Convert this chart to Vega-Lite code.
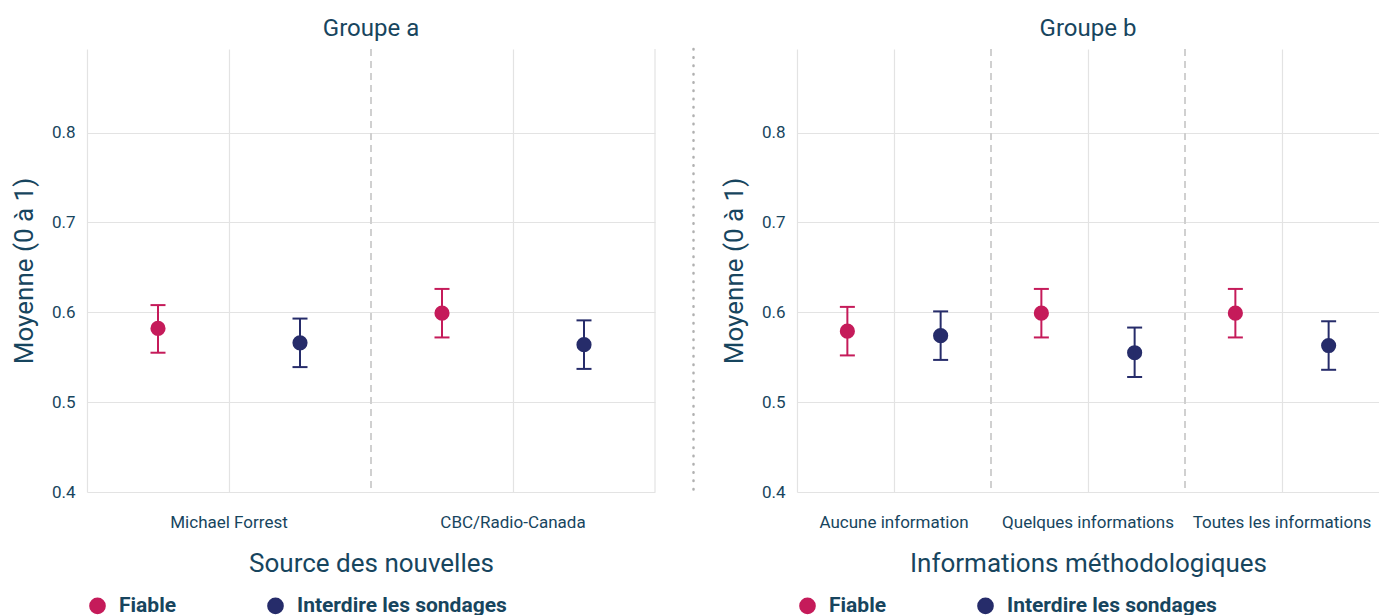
{
  "$schema": "https://vega.github.io/schema/vega-lite/v6.json",
  "padding": {"left": 11, "right": 0, "top": 17, "bottom": 0},
  "background": "white",
  "datasets": {
    "a": [
      {"source": "Michael Forrest", "serie": "Fiable", "moy": 0.582, "lo": 0.555, "hi": 0.608},
      {"source": "Michael Forrest", "serie": "Interdire les sondages", "moy": 0.566, "lo": 0.539, "hi": 0.593},
      {"source": "CBC/Radio-Canada", "serie": "Fiable", "moy": 0.599, "lo": 0.572, "hi": 0.626},
      {"source": "CBC/Radio-Canada", "serie": "Interdire les sondages", "moy": 0.564, "lo": 0.537, "hi": 0.591}
    ],
    "b": [
      {"info": "Aucune information", "serie": "Fiable", "moy": 0.579, "lo": 0.552, "hi": 0.606},
      {"info": "Aucune information", "serie": "Interdire les sondages", "moy": 0.574, "lo": 0.547, "hi": 0.601},
      {"info": "Quelques informations", "serie": "Fiable", "moy": 0.599, "lo": 0.572, "hi": 0.626},
      {"info": "Quelques informations", "serie": "Interdire les sondages", "moy": 0.555, "lo": 0.528, "hi": 0.583},
      {"info": "Toutes les informations", "serie": "Fiable", "moy": 0.599, "lo": 0.572, "hi": 0.626},
      {"info": "Toutes les informations", "serie": "Interdire les sondages", "moy": 0.563, "lo": 0.536, "hi": 0.590}
    ],
    "sep": [{"k": "sep"}]
  },
  "resolve": {"scale": {"color": "independent", "x": "independent", "xOffset": "independent"}, "legend": {"color": "independent"}},
  "spacing": 36,
  "hconcat": [
    {
      "width": 568,
      "height": 443,
      "title": {"text": "Groupe a"},
      "data": {"name": "a"},
      "layer": [
        {
          "transform": [{"filter": "datum.source === 'CBC/Radio-Canada' && datum.serie === 'Fiable'"}],
          "mark": {"type": "rule", "color": "#d0d0d0", "strokeWidth": 2, "strokeDash": [7, 5]},
          "encoding": {
            "x": {"field": "source", "type": "nominal", "bandPosition": 0, "sort": ["Michael Forrest", "CBC/Radio-Canada"], "scale": {"paddingInner": 0, "paddingOuter": 0}, "axis": {"title": "Source des nouvelles", "bandPosition": 0.5, "grid": true}}
          }
        },
        {
          "transform": [{"filter": "datum.source === 'CBC/Radio-Canada' && datum.serie === 'Fiable'"}],
          "mark": {"type": "rule", "color": "#e3e3e3", "strokeWidth": 1.2},
          "encoding": {
            "x": {"field": "source", "type": "nominal", "bandPosition": 1, "sort": ["Michael Forrest", "CBC/Radio-Canada"], "scale": {"paddingInner": 0, "paddingOuter": 0}, "axis": {"title": "Source des nouvelles", "bandPosition": 0.5, "grid": true}}
          }
        },
        {
          "mark": {"type": "circle", "size": 230, "opacity": 1},
          "encoding": {
            "x": {"field": "source", "type": "nominal", "sort": ["Michael Forrest", "CBC/Radio-Canada"], "scale": {"paddingInner": 0, "paddingOuter": 0}, "axis": {"title": "Source des nouvelles", "bandPosition": 0.5, "grid": true}},
            "xOffset": {"field": "serie", "type": "nominal", "sort": ["Fiable", "Interdire les sondages"], "scale": {"paddingInner": 0, "paddingOuter": 0}},
            "y": {"field": "moy", "type": "quantitative", "scale": {"domain": [0.4, 0.893], "nice": false, "zero": false}, "axis": {"title": "Moyenne (0 à 1)", "values": [0.4, 0.5, 0.6, 0.7, 0.8], "format": ".1f"}},
            "color": {"field": "serie", "type": "nominal", "scale": {"domain": ["Fiable", "Interdire les sondages"], "range": ["#C51B5A", "#262C6A"]}, "legend": {"title": null, "orient": "bottom", "direction": "horizontal", "symbolType": "circle"}}
          }
        },
        {
          "mark": {"type": "rule", "strokeWidth": 2},
          "encoding": {
            "x": {"field": "source", "type": "nominal", "sort": ["Michael Forrest", "CBC/Radio-Canada"], "scale": {"paddingInner": 0, "paddingOuter": 0}, "axis": {"title": "Source des nouvelles", "bandPosition": 0.5, "grid": true}},
            "xOffset": {"field": "serie", "type": "nominal", "sort": ["Fiable", "Interdire les sondages"], "scale": {"paddingInner": 0, "paddingOuter": 0}},
            "y": {"field": "lo", "type": "quantitative", "scale": {"domain": [0.4, 0.893], "nice": false, "zero": false}, "axis": {"title": "Moyenne (0 à 1)", "values": [0.4, 0.5, 0.6, 0.7, 0.8], "format": ".1f"}},
            "y2": {"field": "hi"},
            "color": {"field": "serie", "type": "nominal", "scale": {"domain": ["Fiable", "Interdire les sondages"], "range": ["#C51B5A", "#262C6A"]}, "legend": null}
          }
        },
        {
          "mark": {"type": "tick", "thickness": 2, "size": 15, "opacity": 1},
          "encoding": {
            "x": {"field": "source", "type": "nominal", "sort": ["Michael Forrest", "CBC/Radio-Canada"], "scale": {"paddingInner": 0, "paddingOuter": 0}, "axis": {"title": "Source des nouvelles", "bandPosition": 0.5, "grid": true}},
            "xOffset": {"field": "serie", "type": "nominal", "sort": ["Fiable", "Interdire les sondages"], "scale": {"paddingInner": 0, "paddingOuter": 0}},
            "y": {"field": "lo", "type": "quantitative", "scale": {"domain": [0.4, 0.893], "nice": false, "zero": false}, "axis": {"title": "Moyenne (0 à 1)", "values": [0.4, 0.5, 0.6, 0.7, 0.8], "format": ".1f"}},
            "color": {"field": "serie", "type": "nominal", "scale": {"domain": ["Fiable", "Interdire les sondages"], "range": ["#C51B5A", "#262C6A"]}, "legend": null}
          }
        },
        {
          "mark": {"type": "tick", "thickness": 2, "size": 15, "opacity": 1},
          "encoding": {
            "x": {"field": "source", "type": "nominal", "sort": ["Michael Forrest", "CBC/Radio-Canada"], "scale": {"paddingInner": 0, "paddingOuter": 0}, "axis": {"title": "Source des nouvelles", "bandPosition": 0.5, "grid": true}},
            "xOffset": {"field": "serie", "type": "nominal", "sort": ["Fiable", "Interdire les sondages"], "scale": {"paddingInner": 0, "paddingOuter": 0}},
            "y": {"field": "hi", "type": "quantitative", "scale": {"domain": [0.4, 0.893], "nice": false, "zero": false}, "axis": {"title": "Moyenne (0 à 1)", "values": [0.4, 0.5, 0.6, 0.7, 0.8], "format": ".1f"}},
            "color": {"field": "serie", "type": "nominal", "scale": {"domain": ["Fiable", "Interdire les sondages"], "range": ["#C51B5A", "#262C6A"]}, "legend": null}
          }
        }
      ]
    },
    {
      "spacing": 26,
      "resolve": {"scale": {"color": "independent", "x": "independent", "xOffset": "independent"}, "legend": {"color": "independent"}},
      "hconcat": [
        {
          "width": 1,
          "height": 443,
          "data": {"name": "sep"},
          "mark": {"type": "rule", "color": "#b0b0b0", "strokeWidth": 2.5, "strokeDash": [0.5, 7.8], "strokeCap": "round"},
          "encoding": {
            "x": {"field": "k", "type": "nominal", "axis": null}
          }
        },
        {
          "width": 582,
          "height": 443,
          "title": {"text": "Groupe b"},
          "data": {"name": "b"},
          "layer": [
            {
              "transform": [{"filter": "datum.info !== 'Aucune information' && datum.serie === 'Fiable'"}],
              "mark": {"type": "rule", "color": "#d0d0d0", "strokeWidth": 2, "strokeDash": [7, 5]},
              "encoding": {
                "x": {"field": "info", "type": "nominal", "bandPosition": 0, "sort": ["Aucune information", "Quelques informations", "Toutes les informations"], "scale": {"paddingInner": 0, "paddingOuter": 0}, "axis": {"title": "Informations méthodologiques", "bandPosition": 0.5, "grid": true}}
              }
            },
            {
              "mark": {"type": "circle", "size": 230, "opacity": 1},
              "encoding": {
                "x": {"field": "info", "type": "nominal", "sort": ["Aucune information", "Quelques informations", "Toutes les informations"], "scale": {"paddingInner": 0, "paddingOuter": 0}, "axis": {"title": "Informations méthodologiques", "bandPosition": 0.5, "grid": true}},
                "xOffset": {"field": "serie", "type": "nominal", "sort": ["Fiable", "Interdire les sondages"], "scale": {"paddingInner": 0, "paddingOuter": 0.04}},
                "y": {"field": "moy", "type": "quantitative", "scale": {"domain": [0.4, 0.893], "nice": false, "zero": false}, "axis": {"title": "Moyenne (0 à 1)", "values": [0.4, 0.5, 0.6, 0.7, 0.8], "format": ".1f"}},
                "color": {"field": "serie", "type": "nominal", "scale": {"domain": ["Fiable", "Interdire les sondages"], "range": ["#C51B5A", "#262C6A"]}, "legend": {"title": null, "orient": "bottom", "direction": "horizontal", "symbolType": "circle"}}
              }
            },
            {
              "mark": {"type": "rule", "strokeWidth": 2},
              "encoding": {
                "x": {"field": "info", "type": "nominal", "sort": ["Aucune information", "Quelques informations", "Toutes les informations"], "scale": {"paddingInner": 0, "paddingOuter": 0}, "axis": {"title": "Informations méthodologiques", "bandPosition": 0.5, "grid": true}},
                "xOffset": {"field": "serie", "type": "nominal", "sort": ["Fiable", "Interdire les sondages"], "scale": {"paddingInner": 0, "paddingOuter": 0.04}},
                "y": {"field": "lo", "type": "quantitative", "scale": {"domain": [0.4, 0.893], "nice": false, "zero": false}, "axis": {"title": "Moyenne (0 à 1)", "values": [0.4, 0.5, 0.6, 0.7, 0.8], "format": ".1f"}},
                "y2": {"field": "hi"},
                "color": {"field": "serie", "type": "nominal", "scale": {"domain": ["Fiable", "Interdire les sondages"], "range": ["#C51B5A", "#262C6A"]}, "legend": null}
              }
            },
            {
              "mark": {"type": "tick", "thickness": 2, "size": 15, "opacity": 1},
              "encoding": {
                "x": {"field": "info", "type": "nominal", "sort": ["Aucune information", "Quelques informations", "Toutes les informations"], "scale": {"paddingInner": 0, "paddingOuter": 0}, "axis": {"title": "Informations méthodologiques", "bandPosition": 0.5, "grid": true}},
                "xOffset": {"field": "serie", "type": "nominal", "sort": ["Fiable", "Interdire les sondages"], "scale": {"paddingInner": 0, "paddingOuter": 0.04}},
                "y": {"field": "lo", "type": "quantitative", "scale": {"domain": [0.4, 0.893], "nice": false, "zero": false}, "axis": {"title": "Moyenne (0 à 1)", "values": [0.4, 0.5, 0.6, 0.7, 0.8], "format": ".1f"}},
                "color": {"field": "serie", "type": "nominal", "scale": {"domain": ["Fiable", "Interdire les sondages"], "range": ["#C51B5A", "#262C6A"]}, "legend": null}
              }
            },
            {
              "mark": {"type": "tick", "thickness": 2, "size": 15, "opacity": 1},
              "encoding": {
                "x": {"field": "info", "type": "nominal", "sort": ["Aucune information", "Quelques informations", "Toutes les informations"], "scale": {"paddingInner": 0, "paddingOuter": 0}, "axis": {"title": "Informations méthodologiques", "bandPosition": 0.5, "grid": true}},
                "xOffset": {"field": "serie", "type": "nominal", "sort": ["Fiable", "Interdire les sondages"], "scale": {"paddingInner": 0, "paddingOuter": 0.04}},
                "y": {"field": "hi", "type": "quantitative", "scale": {"domain": [0.4, 0.893], "nice": false, "zero": false}, "axis": {"title": "Moyenne (0 à 1)", "values": [0.4, 0.5, 0.6, 0.7, 0.8], "format": ".1f"}},
                "color": {"field": "serie", "type": "nominal", "scale": {"domain": ["Fiable", "Interdire les sondages"], "range": ["#C51B5A", "#262C6A"]}, "legend": null}
              }
            }
          ]
        }
      ]
    }
  ],
  "config": {
    "view": {"stroke": null},
    "axis": {
      "gridColor": "#e3e3e3",
      "gridWidth": 1.2,
      "domain": false,
      "ticks": false,
      "tickSize": 0,
      "labelColor": "#17455E",
      "titleColor": "#17455E",
      "labelFont": "Roboto",
      "labelFontSize": 17,
      "labelLimit": 300,
      "titleFont": "Roboto",
      "titleFontWeight": "normal",
      "titleFontSize": 26
    },
    "axisY": {"domain": true, "domainColor": "#e3e3e3", "domainWidth": 1.2, "labelPadding": 12, "titlePadding": 14},
    "axisX": {"labelPadding": 22, "titlePadding": 20, "labelAngle": 0},
    "title": {"font": "Roboto", "fontSize": 24, "fontWeight": "normal", "color": "#17455E", "offset": 7},
    "legend": {
      "symbolType": "circle",
      "symbolSize": 230,
      "symbolOpacity": 1,
      "labelFont": "Roboto",
      "labelFontWeight": "bold",
      "labelFontSize": 21,
      "labelColor": "#17455E",
      "labelLimit": 400,
      "labelOffset": 11,
      "columnPadding": 87,
      "offset": 19,
      "padding": 0
    }
  }
}
